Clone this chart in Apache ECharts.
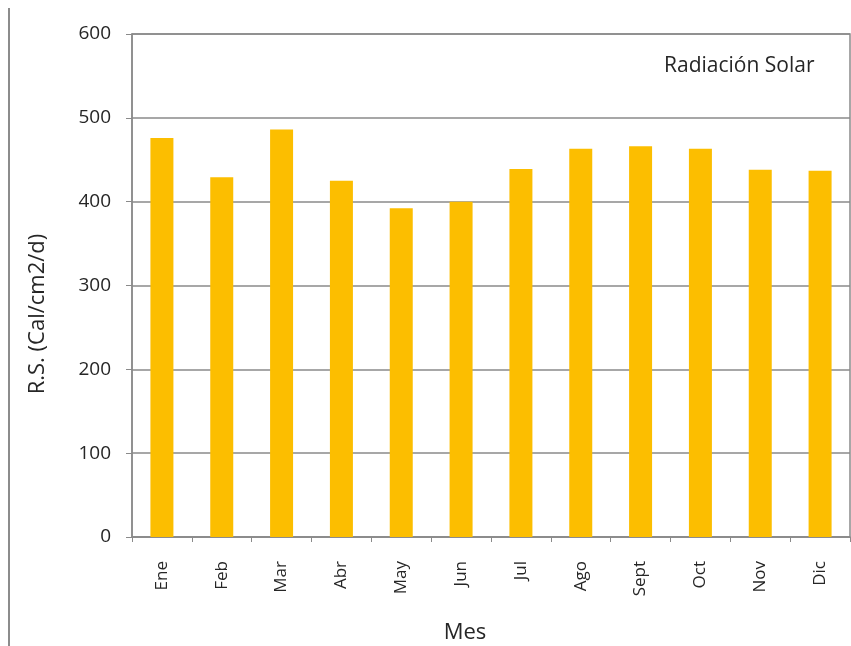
<!DOCTYPE html>
<html>
<head>
<meta charset="utf-8">
<script src="https://cdn.jsdelivr.net/npm/echarts@6/dist/echarts.min.js"></script>
<style>html,body{margin:0;padding:0;background:#fff}#c{width:851px;height:646px}</style>
</head>
<body>
<div id="c"></div>
<script>
const categories = ['Ene','Feb','Mar','Abr','May','Jun','Jul','Ago','Sept','Oct','Nov','Dic'];
const radiacion = [476, 429, 486, 425, 392, 400, 439, 463, 466, 463, 438, 437];
const yTicks = [0, 100, 200, 300, 400, 500, 600];
const seriesName = 'Radiación Solar';
const xTitle = 'Mes';
const yTitle = 'R.S. (Cal/cm2/d)';

const FONT = 'Open Sans';
const chart = echarts.init(document.getElementById('c'), null, {renderer: 'canvas'});
chart.setOption({
  backgroundColor: '#ffffff',
  animation: false,
  textStyle: {fontFamily: FONT},
  title: {
    text: seriesName,
    left: 659, top: 51,
    textStyle: {fontFamily: FONT, fontSize: 21, fontWeight: 'normal', color: '#262626'}
  },
  grid: {
    left: 132, right: 1, top: 34, bottom: 109,
    show: true, borderColor: '#8a8a8a', borderWidth: 1.5, backgroundColor: 'transparent'
  },
  xAxis: {
    type: 'category',
    data: categories,
    axisLine: {lineStyle: {color: '#8a8a8a', width: 1.5}},
    axisTick: {show: true, length: 5, lineStyle: {color: '#8a8a8a'}},
    axisLabel: {rotate: 90, margin: 24, fontSize: 17, color: '#262626', fontFamily: FONT},
    splitLine: {show: false}
  },
  yAxis: {
    type: 'value',
    min: yTicks[0], max: yTicks[yTicks.length - 1], interval: 100,
    axisLine: {show: true, lineStyle: {color: '#8a8a8a', width: 1.5}},
    axisTick: {show: true, length: 6, lineStyle: {color: '#8a8a8a'}},
    axisLabel: {margin: 21, fontSize: 19, color: '#262626', fontFamily: FONT},
    splitLine: {show: true, lineStyle: {color: '#8a8a8a', width: 1.5}}
  },
  series: [{
    name: seriesName,
    type: 'bar',
    data: radiacion,
    barWidth: 23,
    itemStyle: {color: '#FCBE00'}
  }],
  graphic: [
    {type: 'line', shape: {x1: 9, y1: 8, x2: 9, y2: 646}, style: {stroke: '#666', lineWidth: 1.5}},
    {type: 'text', x: 465, y: 633,
     style: {text: xTitle, fontSize: 22, fill: '#262626', fontFamily: FONT, align: 'center', verticalAlign: 'middle'}},
    {type: 'text', x: 38, y: 314, rotation: Math.PI / 2,
     style: {text: yTitle, fontSize: 22, fill: '#262626', fontFamily: FONT, align: 'center', verticalAlign: 'middle'}}
  ]
});
</script>
</body>
</html>
